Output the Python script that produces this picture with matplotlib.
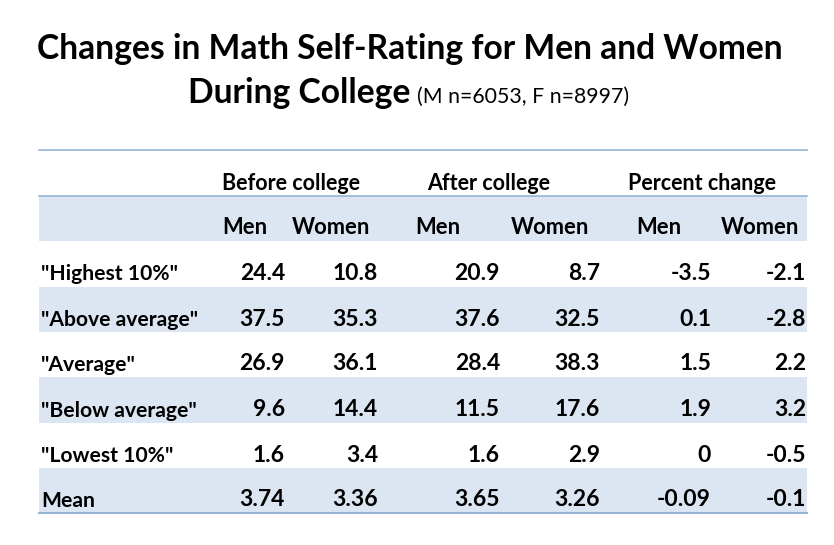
import matplotlib
matplotlib.use("Agg")
import matplotlib.pyplot as plt
from matplotlib.patches import Rectangle

title_line1 = "Changes in Math Self-Rating for Men and Women"
title_line2 = "During College"
subtitle = "(M n=6053, F n=8997)"

groups = ["Before college", "After college", "Percent change"]
sub_headers = ["Men", "Women", "Men", "Women", "Men", "Women"]
row_labels = ['"Highest 10%"', '"Above average"', '"Average"', '"Below average"', '"Lowest 10%"', "Mean"]
before_men = ["24.4", "37.5", "26.9", "9.6", "1.6", "3.74"]
before_women = ["10.8", "35.3", "36.1", "14.4", "3.4", "3.36"]
after_men = ["20.9", "37.6", "28.4", "11.5", "1.6", "3.65"]
after_women = ["8.7", "32.5", "38.3", "17.6", "2.9", "3.26"]
change_men = ["-3.5", "0.1", "1.5", "1.9", "0", "-0.09"]
change_women = ["-2.1", "-2.8", "2.2", "3.2", "-0.5", "-0.1"]

columns = [before_men, before_women, after_men, after_women, change_men, change_women]

W, H = 834, 545
fig = plt.figure(figsize=(W / 100, H / 100), dpi=100)
ax = fig.add_axes([0, 0, 1, 1])
ax.set_xlim(0, W)
ax.set_ylim(H, 0)
ax.axis("off")

FONT = "Lato"
band = "#DCE6F2"
line = "#95B3D7"

left, right = 39, 807
top = 150
head1_bottom = 196
row_h = 45.3

# title
ax.text(410, 49, title_line1, ha="center", va="center", fontsize=24.2, fontweight="bold", family=FONT)
ax.text(410, 93, title_line2, ha="right", va="center", fontsize=24.2, fontweight="bold", family=FONT)
ax.text(417, 97, subtitle, ha="left", va="center", fontsize=15.3, family=FONT)

# bands: header row 2 and every other data row
for i in range(7):
    y0 = head1_bottom + i * row_h
    if i % 2 == 0:
        ax.add_patch(Rectangle((left, y0), right - left, row_h, facecolor=band, edgecolor="none"))

bottom = head1_bottom + 7 * row_h
ax.plot([left, right], [top, top], color=line, lw=1.2)
ax.plot([left, right], [head1_bottom, head1_bottom], color=line, lw=1.2)
ax.plot([left, right], [bottom, bottom], color=line, lw=1.5)

# group headers
group_x = [222, 427, 628]
for g, x in zip(groups, group_x):
    ax.text(x, 183, g, ha="left", va="center", fontsize=15.5, fontweight="bold", family=FONT)

sub_x = [222, 292, 415, 511, 636, 721]
for s, x in zip(sub_headers, sub_x):
    ax.text(x, 228, s, ha="left", va="center", fontsize=15.8, fontweight="bold", family=FONT)

col_right = [285, 378, 500, 600, 711, 806]
row_y = [273, 319, 364, 410, 455, 500]
for lbl, y in zip(row_labels, row_y):
    ax.text(41, y + 1, lbl, ha="left", va="center", fontsize=15.2, fontweight="bold", family=FONT)
for col, x in zip(columns, col_right):
    for v, y in zip(col, row_y):
        ax.text(x, y, v, ha="right", va="center", fontsize=16.5, fontweight="bold", family=FONT)

fig.savefig("out.png", dpi=100)
